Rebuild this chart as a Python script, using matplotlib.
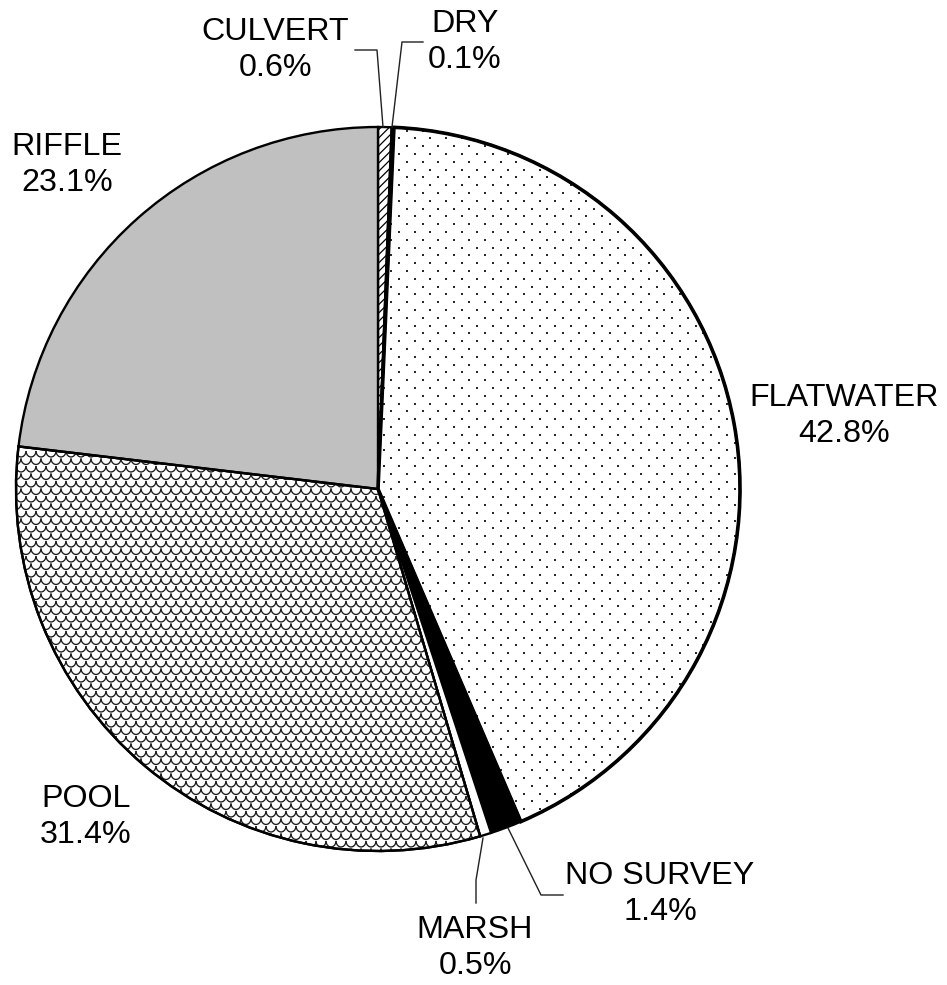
import numpy as np
import matplotlib
matplotlib.use("Agg")
import matplotlib.pyplot as plt
from matplotlib.patches import Wedge
from matplotlib.collections import LineCollection

plt.rcParams['font.family'] = ['Liberation Sans', 'DejaVu Sans']
plt.rcParams['hatch.linewidth'] = 0.9

# habitat types, clockwise from 12 o'clock
HABITATS = ['CULVERT', 'DRY', 'FLATWATER', 'NO SURVEY', 'MARSH', 'POOL', 'RIFFLE']
SHARES = [0.6, 0.1, 42.8, 1.4, 0.5, 31.4, 23.1]

# label block centres (pixels from top-left) and leader lines
LABEL_POS = {
    'CULVERT': (275, 50),
    'DRY': (465, 42),
    'FLATWATER': (844, 416),
    'NO SURVEY': (660, 894),
    'MARSH': (475, 948),
    'POOL': (86, 817),
    'RIFFLE': (67, 165),
}
LEADERS = {
    'CULVERT': [(355, 50), (377, 50), (383, 127)],
    'DRY': [(423, 42), (402, 42), (392, 127)],
    'NO SURVEY': [(508, 828), (541, 895), (563, 895)],
    'MARSH': [(483, 838), (476, 880), (476, 903)],
}

W, H = 947, 985
CX, CY, R = 378, 489, 362


def flip(pts):
    return [(x, H - y) for x, y in pts]


def dot_pattern(ax, patch, x0, x1, y0, y1, dx=15.6, dy=7.8):
    xs, ys = [], []
    row = 0
    y = y0
    while y < y1:
        off = (dx / 2) if row % 2 else 0
        x = x0 + off
        while x < x1:
            xs.append(x)
            ys.append(y)
            x += dx
        y += dy
        row += 1
    sc = ax.scatter(xs, ys, s=2.6, marker='s', color='#2a2a2a', linewidths=0, zorder=3)
    sc.set_clip_path(patch)


def scale_pattern(ax, patch, x0, x1, y0, y1, r=5.0, dy=7.5):
    t = np.linspace(np.pi, 2 * np.pi, 10)
    segs = []
    row = 0
    y = y0
    while y < y1:
        off = r if row % 2 else 0
        x = x0 + off
        while x < x1:
            segs.append(np.column_stack([x + r * np.cos(t), y + r * np.sin(t) * 1.2]))
            x += 2 * r
        y += dy
        row += 1
    lc = LineCollection(segs, colors='#1a1a1a', linewidths=0.95, zorder=3)
    lc.set_clip_path(patch)
    ax.add_collection(lc)


fig = plt.figure(figsize=(W / 100, H / 100), dpi=100)
ax = fig.add_axes([0, 0, 1, 1])

colors = ['white', 'black', 'white', 'black', 'white', 'white', '#c0c0c0']
hatches = ['////', None, None, None, None, None, None]

wedges, _ = ax.pie(SHARES, startangle=90, counterclock=False,
                   center=(CX, H - CY), radius=R, colors=colors,
                   wedgeprops=dict(edgecolor='black', linewidth=1.7))
for w, h in zip(wedges, hatches):
    if h:
        w.set_hatch(h)

# dotted fill for flatwater, with a heavier outline drawn on top
flat = wedges[HABITATS.index('FLATWATER')]
dot_pattern(ax, flat, CX - 10, CX + R + 5, H - CY - R - 5, H - CY + R + 5)
ax.add_patch(Wedge((CX, H - CY), R, flat.theta1, flat.theta2,
                   facecolor='none', edgecolor='black', linewidth=2.6, zorder=4))

# scale fill for pool
pool = wedges[HABITATS.index('POOL')]
scale_pattern(ax, pool, CX - R - 5, CX + 150, H - CY - R - 5, H - CY + 40)
ax.add_patch(Wedge((CX, H - CY), R, pool.theta1, pool.theta2,
                   facecolor='none', edgecolor='black', linewidth=1.7, zorder=4))

for name, val in zip(HABITATS, SHARES):
    x, y = LABEL_POS[name]
    ax.text(x, H - y, f'{name}\n{val:.1f}%', ha='center', va='center',
            fontsize=23.2, linespacing=1.25, color='black', zorder=6)

for name, pts in LEADERS.items():
    xs, ys = zip(*flip(pts))
    ax.plot(xs, ys, color='#202020', linewidth=1.0, zorder=5)

ax.set_xlim(0, W)
ax.set_ylim(0, H)
ax.set_aspect('equal')
ax.axis('off')

fig.savefig('out.png', dpi=100, facecolor='white')
